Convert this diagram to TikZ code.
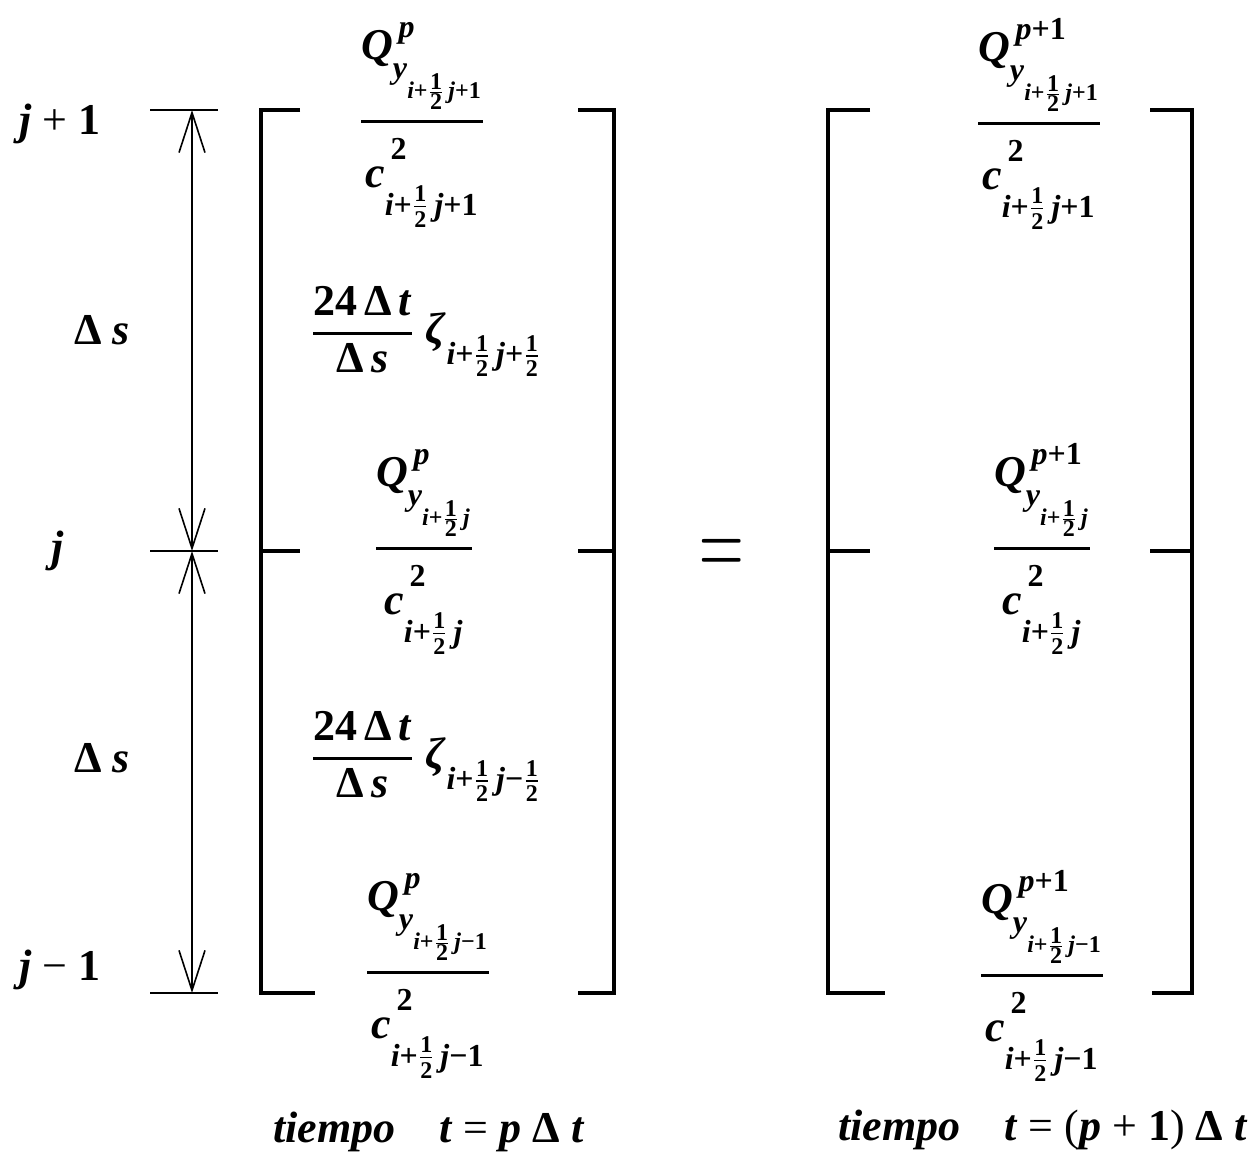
\documentclass[tikz,border=0pt]{standalone}
\usepackage{amsmath}
\usepackage{fontspec}
\setmainfont{Liberation Serif}
\usetikzlibrary{arrows.meta}
\DeclareMathSizes{22}{22}{16}{12}

\newcommand{\bi}[1]{\textbf{\textit{#1}}}
\newcommand{\bu}[1]{\textbf{#1}}
\newcommand{\ihalf}{\bi{i}\bu{+}\frac{\bu{1}}{\bu{2}}\,}
\newcommand{\barfrac}[2]{\genfrac{}{}{1.4pt}{0}{#1}{#2}}
% struts only push sub- and superscripts to where the printed formula has them
\newcommand{\qfrac}[2]{\barfrac{\rule[-1.2em]{0pt}{1.2em}%
    \bi{Q}^{\,#1}_{\rule{0pt}{13.5pt}\bi{y}_{\rule{0pt}{16pt}\ihalf#2}}}%
  {\rule{0pt}{27.8pt}\bi{c}^{\,\rule[-6.4pt]{0pt}{6.4pt}\bu{2}}_{\rule{0pt}{18pt}\ihalf#2}}}
\newcommand{\zfrac}[1]{\barfrac{\bu{24}\,\bu{Δ}\,\bi{t}}{\bu{Δ}\,\bi{s}}\;%
  \bi{ζ}_{\rule{0pt}{17.5pt}\ihalf#1}}

\begin{document}
\begin{tikzpicture}[
  x=0.5pt, y=-0.5pt,
  txt/.style={font=\fontsize{22}{26}\selectfont},
  lbl/.style={txt, anchor=base, inner sep=0pt},
  frac/.style={txt, anchor=base, inner sep=0pt},
  eqs/.style={font=\fontsize{24.88}{25}\selectfont, anchor=base, inner sep=0pt,
              xscale=1.24, yscale=2.15},
  brk/.style={line width=2pt},
  tick/.style={line width=1pt},
  dim/.style={line width=0.8pt,
              {Straight Barb[length=20pt,width=13pt]}-{Straight Barb[length=20pt,width=13pt]}},
]
  \useasboundingbox[fill=white] (0,0) rectangle (1249,1154);

  % GRID LABELS
  \node[lbl] (jp) at (60,135) {\bi{j} + \bu{1}};
  \node[lbl] (ds1) at (102,345) {\bu{Δ} \bi{s}};
  \node[lbl] (jj) at (58,562) {\bi{j}};
  \node[lbl] (ds2) at (102,773) {\bu{Δ} \bi{s}};
  \node[lbl] (jm) at (60,980) {\bi{j} − \bu{1}};

  % DIMENSION LINE
  \coordinate (dtop) at (192,110);
  \coordinate (dmid) at (192,551);
  \coordinate (dbot) at (192,993);
  \foreach \yy in {110,551,993}
    \draw[tick] (150,\yy) -- (218,\yy);
  \draw[dim] (dtop) -- (dmid);
  \draw[dim] (dmid) -- (dbot);

  % LEFT MATRIX: tiempo p
  \draw[brk] (300,110) -- (261,110) -- (261,993) -- (315,993);
  \draw[brk] (261,551) -- (300,551);
  \draw[brk] (578,110) -- (614,110) -- (614,993) -- (578,993);
  \draw[brk] (578,551) -- (614,551);

  \node[frac] (lq1) at (422,132) {$\qfrac{\bi{p}}{\bi{j}\bu{+}\bu{1}}$};
  \node[frac] (lz1) at (426,344) {$\zfrac{\bi{j}\bu{+}\frac{\bu{1}}{\bu{2}}}$};
  \node[frac] (lq2) at (424,559) {$\qfrac{\bi{p}}{\bi{j}}$};
  \node[frac] (lz2) at (426,769) {$\zfrac{\bi{j}\bu{−}\frac{\bu{1}}{\bu{2}}}$};
  \node[frac] (lq3) at (428,983) {$\qfrac{\bi{p}}{\bi{j}\bu{−}\bu{1}}$};

  % EQUALS
  \node[eqs] (eq) at (722,578) {$=$};

  % RIGHT MATRIX: tiempo p+1
  \draw[brk] (870,110) -- (828,110) -- (828,993) -- (885,993);
  \draw[brk] (828,551) -- (870,551);
  \draw[brk] (1150,110) -- (1192,110) -- (1192,993) -- (1152,993);
  \draw[brk] (1150,551) -- (1192,551);

  \node[frac] (rq1) at (1039,134) {$\qfrac{\bi{p}\bu{+}\bu{1}}{\bi{j}\bu{+}\bu{1}}$};
  \node[frac] (rq2) at (1042,559) {$\qfrac{\bi{p}\bu{+}\bu{1}}{\bi{j}}$};
  \node[frac] (rq3) at (1042,986) {$\qfrac{\bi{p}\bu{+}\bu{1}}{\bi{j}\bu{−}\bu{1}}$};

  % TIME LABELS
  \node[lbl] (tl) at (429,1142) {\bi{tiempo}\quad \bi{t} = \bi{p} \bu{Δ} \bi{t}};
  \node[lbl] (tr) at (1043,1140) {\bi{tiempo}\quad \bi{t} = (\bi{p} + \bu{1}) \bu{Δ} \bi{t}};
\end{tikzpicture}
\end{document}
